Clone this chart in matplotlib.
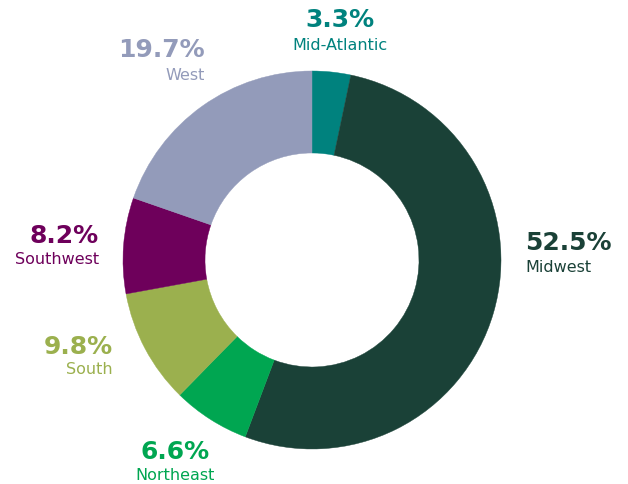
import matplotlib
matplotlib.use("Agg")
import matplotlib.pyplot as plt

regions = ["Mid-Atlantic", "Midwest", "Northeast", "South", "Southwest", "West"]
shares = [3.3, 52.5, 6.6, 9.8, 8.2, 19.7]
colors = ["#00827e", "#1a4137", "#00a651", "#9bb04e", "#6e005b", "#939bba"]

# label anchor (x, y of percent line, y of name line, alignment), in pixel space
label_pos = [
    (340, 20, 45, "center"),
    (525, 243, 268, "left"),
    (175, 452, 476, "center"),
    (113, 347, 370, "right"),
    (99, 236, 260, "right"),
    (205, 50, 76, "right"),
]

W, H = 628, 485


def main():
    fig = plt.figure(figsize=(W / 100, H / 100), dpi=100)
    ax = fig.add_axes([0, 0, 1, 1])

    wedges, _ = ax.pie(shares, colors=colors, startangle=90, counterclock=False,
                       center=(312, H - 261), radius=189,
                       wedgeprops=dict(width=82, linewidth=0.3))
    for w in wedges:
        w.set_edgecolor(w.get_facecolor())

    # pie resets the limits, so put the pixel frame back afterwards
    ax.set_xlim(0, W)
    ax.set_ylim(0, H)
    ax.set_aspect("equal")
    ax.axis("off")

    for share, name, col, (x, y1, y2, ha) in zip(shares, regions, colors, label_pos):
        ax.text(x, H - y1, f"{share:.1f}%", color=col, fontsize=18,
                fontweight="bold", ha=ha, va="center")
        ax.text(x, H - y2, name, color=col, fontsize=11.5,
                ha=ha, va="center")

    fig.savefig("out.png", dpi=100)


if __name__ == "__main__":
    main()
